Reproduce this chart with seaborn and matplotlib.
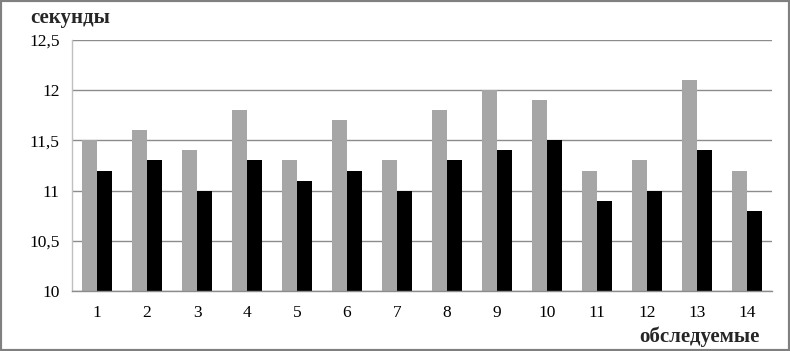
import matplotlib
matplotlib.use("Agg")
import matplotlib.pyplot as plt
import seaborn as sns
import pandas as pd
from matplotlib.patches import Rectangle

subjects = [str(i) for i in range(1, 15)]
series_gray = [11.5, 11.6, 11.4, 11.8, 11.3, 11.7, 11.3, 11.8, 12.0, 11.9, 11.2, 11.3, 12.1, 11.2]
series_black = [11.2, 11.3, 11.0, 11.3, 11.1, 11.2, 11.0, 11.3, 11.4, 11.5, 10.9, 11.0, 11.4, 10.8]
yticks = [10, 10.5, 11, 11.5, 12, 12.5]
ytick_labels = ["10", "10,5", "11", "11,5", "12", "12,5"]

df = pd.DataFrame({
    "subject": subjects * 2,
    "value": series_gray + series_black,
    "series": ["A"] * len(subjects) + ["B"] * len(subjects),
})

sns.set_theme(style="white")
plt.rcParams["font.family"] = ["Liberation Serif", "DejaVu Serif"]

fig = plt.figure(figsize=(7.9, 3.51), dpi=100)
ax = fig.add_axes([72/790, 1-291/351, 700/790, 251/351])

sns.barplot(data=df, x="subject", y="value", hue="series",
            palette={"A": "#a6a6a6", "B": "#000000"},
            width=0.6, ax=ax, legend=False, saturation=1,
            linewidth=0, edgecolor="none")

ax.set_ylim(10, 12.5)
ax.set_xlim(-0.5, 13.5)
ax.set_yticks(yticks)
ax.set_yticklabels(ytick_labels, fontsize=12.5)
for lbl in ax.get_xticklabels():
    lbl.set_fontsize(12.5)
ax.tick_params(axis="x", labelsize=12.5, length=0, pad=10, colors="black")
ax.tick_params(axis="y", length=5, color="#8c8c8c", pad=4, colors="black")
ax.yaxis.grid(True, color="#8c8c8c", linewidth=1)
ax.set_axisbelow(True)
ax.set_xlabel("")
ax.set_ylabel("")
for side in ["top", "right"]:
    ax.spines[side].set_visible(False)
ax.spines["left"].set_color("#bfbfbf")
ax.spines["bottom"].set_color("#8c8c8c")
ax.spines["left"].set_linewidth(1)
ax.spines["bottom"].set_linewidth(1)

fig.text(30/790, 1-18/351, "секунды", fontsize=15, fontweight="bold", va="center", ha="left")
fig.text(760/790, 1-337/351, "обследуемые", fontsize=15, fontweight="bold", va="center", ha="right")

fig.patches.append(Rectangle((0, 0), 1, 1, transform=fig.transFigure, fill=False,
                             edgecolor="#808080", linewidth=3, zorder=10))

fig.savefig("out.png", dpi=100)
